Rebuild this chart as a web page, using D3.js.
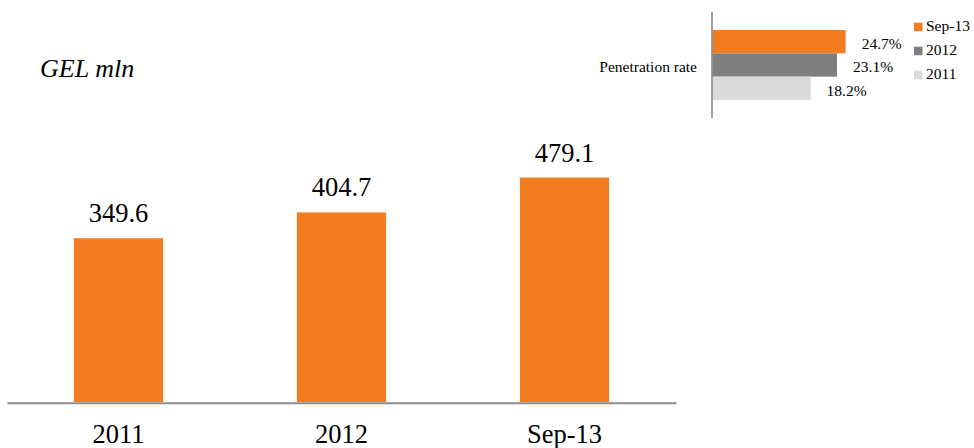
<!DOCTYPE html>
<html>
<head>
<meta charset="utf-8">
<script src="https://cdn.jsdelivr.net/npm/d3@7/dist/d3.min.js"></script>
<style>
  html, body { margin: 0; padding: 0; background: #ffffff; }
  svg text { font-family: "Liberation Serif", "Tinos", "Times New Roman", "DejaVu Serif", serif !important; }
</style>
</head>
<body>
<svg id="chart" width="974" height="448"></svg>
<script>
// Loan portfolio, GEL mln
const periods = ["2011", "2012", "Sep-13"];
const portfolio = [349.6, 404.7, 479.1];

// Penetration rate inset (top series first)
const penSeries = ["Sep-13", "2012", "2011"];
const penValues = [24.7, 23.1, 18.2];
const penCategory = "Penetration rate";

const unitLabel = "GEL mln";

const ORANGE = "#f47c20";
const seriesColors = { "Sep-13": ORANGE, "2012": "#7f7f7f", "2011": "#d9d9d9" };

const svg = d3.select("#chart");

// ---- main column chart ----
const x = d3.scaleBand()
  .domain(periods)
  .range([7, 676])
  .paddingInner(0.6)
  .paddingOuter(0.3);

const y = d3.scaleLinear()
  .domain([0, 600])
  .range([402, 120.9]);

svg.append("g")
  .selectAll("rect")
  .data(periods)
  .join("rect")
  .attr("x", d => x(d))
  .attr("width", x.bandwidth())
  .attr("y", (d, i) => y(portfolio[i]))
  .attr("height", (d, i) => y(0) - y(portfolio[i]))
  .attr("fill", ORANGE);

svg.append("g")
  .selectAll("text")
  .data(periods)
  .join("text")
  .attr("x", d => x(d) + x.bandwidth() / 2)
  .attr("y", (d, i) => y(portfolio[i]) - 16)
  .attr("text-anchor", "middle")
  .attr("font-size", 26.5)
  .attr("fill", "#000")
  .text((d, i) => portfolio[i].toFixed(1));

const xAxis = svg.append("g")
  .attr("transform", `translate(0,${y(0) + 0.7})`)
  .call(d3.axisBottom(x).tickSize(0).tickPadding(0));
xAxis.select(".domain").attr("stroke", "#8c8c8c").attr("stroke-width", 2);
xAxis.selectAll(".tick text")
  .attr("font-size", 26.5)
  .attr("fill", "#000")
  .attr("dy", null)
  .attr("y", 40);

svg.append("text")
  .attr("x", 40)
  .attr("y", 77)
  .attr("font-size", 26)
  .attr("font-style", "italic")
  .attr("fill", "#000")
  .text(unitLabel);

// ---- penetration rate inset (horizontal bars) ----
const px = d3.scaleLinear().domain([0, 30]).range([712.5, 874.2]);
const py = d3.scaleBand().domain(penSeries).range([30, 100]);

const inset = svg.append("g");

inset.selectAll("rect")
  .data(penSeries)
  .join("rect")
  .attr("x", px(0))
  .attr("y", d => py(d))
  .attr("width", (d, i) => px(penValues[i]) - px(0))
  .attr("height", py.bandwidth())
  .attr("fill", d => seriesColors[d]);

inset.selectAll("text.val")
  .data(penSeries)
  .join("text")
  .attr("class", "val")
  .attr("x", (d, i) => px(penValues[i]) + 16)
  .attr("y", d => py(d) + py.bandwidth() / 2 + 7.3)
  .attr("font-size", 15.5)
  .attr("fill", "#000")
  .text((d, i) => penValues[i].toFixed(1) + "%");

inset.append("line")
  .attr("x1", 712).attr("x2", 712)
  .attr("y1", 12).attr("y2", 118)
  .attr("stroke", "#7f7f7f")
  .attr("stroke-width", 1.5);

inset.append("text")
  .attr("x", 697)
  .attr("y", 71.7)
  .attr("text-anchor", "end")
  .attr("font-size", 15.5)
  .attr("fill", "#000")
  .text(penCategory);

// legend
const legend = inset.append("g")
  .selectAll("g")
  .data(penSeries)
  .join("g")
  .attr("transform", (d, i) => `translate(914,${22.7 + i * 24})`);

legend.append("rect")
  .attr("width", 8.5)
  .attr("height", 8.5)
  .attr("fill", d => seriesColors[d]);

legend.append("text")
  .attr("x", 12)
  .attr("y", 8.3)
  .attr("font-size", 15.5)
  .attr("fill", "#000")
  .text(d => d);
</script>
</body>
</html>
